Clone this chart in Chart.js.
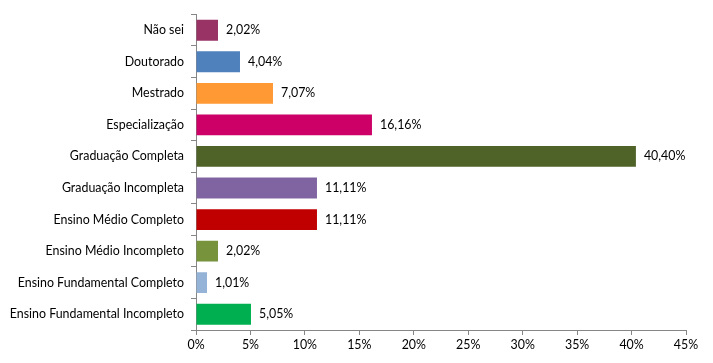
<!DOCTYPE html>
<html>
<head>
<meta charset="utf-8">
<script src="https://cdn.jsdelivr.net/npm/chart.js@4"></script>
<style>
    html, body { margin: 0; padding: 0; background: #ffffff; }
    #wrap { width: 713px; height: 363px; }
</style>
</head>
<body>
<div id="wrap"><canvas id="escolaridadeChart" width="713" height="363"></canvas></div>
<script>
// Chart data
const categories = [
    'Não sei',
    'Doutorado',
    'Mestrado',
    'Especialização',
    'Graduação Completa',
    'Graduação Incompleta',
    'Ensino Médio Completo',
    'Ensino Médio Incompleto',
    'Ensino Fundamental Completo',
    'Ensino Fundamental Incompleto'
];
const percentages = [2.02, 4.04, 7.07, 16.16, 40.40, 11.11, 11.11, 2.02, 1.01, 5.05];
const barColors = [
    '#993366', '#4f81bd', '#ff9933', '#cc0066', '#4f6228',
    '#8064a2', '#c00000', '#77933c', '#95b3d7', '#00b050'
];
const xTicks = [0, 5, 10, 15, 20, 25, 30, 35, 40, 45];

const axisColor = '#868686';
const fontFamily = 'Lato, "Open Sans", sans-serif';
const fontSize = 12.4;

// Draw value labels at the end of each bar
const valueLabels = {
    id: 'valueLabels',
    afterDatasetsDraw(chart) {
        const ctx = chart.ctx;
        const meta = chart.getDatasetMeta(0);
        ctx.save();
        ctx.font = fontSize + 'px ' + fontFamily;
        ctx.fillStyle = '#000000';
        ctx.textAlign = 'left';
        ctx.textBaseline = 'middle';
        meta.data.forEach((bar, i) => {
            const text = percentages[i].toFixed(2).replace('.', ',') + '%';
            ctx.fillText(text, bar.x + 8, bar.y);
        });
        ctx.restore();
    }
};

const ctx = document.getElementById('escolaridadeChart');
new Chart(ctx, {
    type: 'bar',
    data: {
        labels: categories,
        datasets: [{
            data: percentages,
            backgroundColor: barColors,
            borderWidth: 0,
            barPercentage: 0.66,
            categoryPercentage: 1
        }]
    },
    options: {
        indexAxis: 'y',
        responsive: false,
        animation: false,
        layout: {
            padding: { top: 14, right: 27, left: 0, bottom: 0 }
        },
        plugins: {
            legend: { display: false },
            tooltip: { enabled: false }
        },
        scales: {
            x: {
                min: 0,
                max: 45,
                afterBuildTicks(scale) {
                    scale.ticks = xTicks.map(v => ({ value: v }));
                },
                afterFit(scale) {
                    scale.height = 33;
                },
                border: { color: axisColor, width: 1 },
                grid: {
                    drawOnChartArea: false,
                    drawTicks: true,
                    tickLength: 5,
                    color: axisColor
                },
                ticks: {
                    color: '#000000',
                    font: { family: fontFamily, size: fontSize },
                    padding: 3,
                    maxRotation: 0,
                    callback: function(value) {
                        return value + '%';
                    }
                }
            },
            y: {
                afterFit(scale) {
                    scale.width = 196;
                },
                border: { color: axisColor, width: 1 },
                grid: {
                    offset: true,
                    drawOnChartArea: false,
                    drawTicks: true,
                    tickLength: 5,
                    color: axisColor
                },
                ticks: {
                    color: '#000000',
                    font: { family: fontFamily, size: fontSize },
                    padding: 7
                }
            }
        }
    },
    plugins: [valueLabels]
});
</script>
</body>
</html>
